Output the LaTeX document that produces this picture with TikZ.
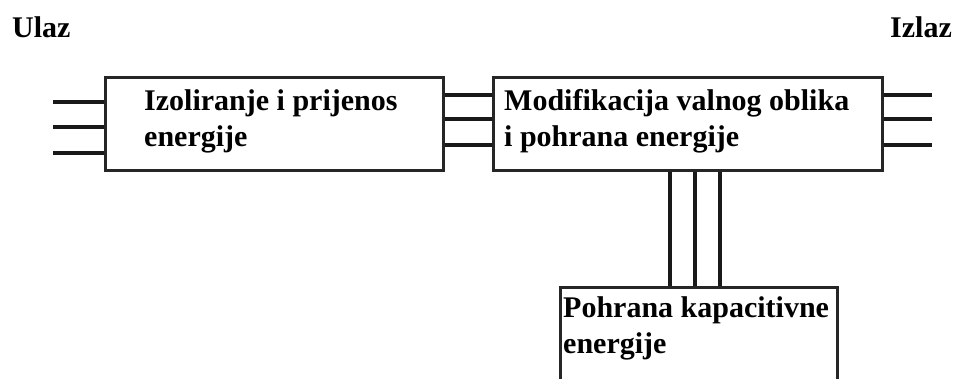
\documentclass[tikz,border=0pt]{standalone}
\usepackage{fontspec}
\setmainfont{Liberation Serif}
\begin{document}
\begin{tikzpicture}[x=1pt,y=-1pt,
  blk/.style={draw=black!85,line width=3pt,rectangle,inner sep=0pt},
  lead/.style={draw=black!90,line width=3.2pt},
  txt/.style={inner sep=0pt,anchor=base west,align=left,font=\bfseries\fontsize{30}{36.5}\selectfont}]
\useasboundingbox (0,0) rectangle (955,378);
\clip (0,0) rectangle (955,378);
\node[blk,minimum width=338pt,minimum height=93pt] (b1) at (274,123.5) {};
\node[blk,minimum width=389pt,minimum height=93pt] (b2) at (687.5,123.5) {};
\node[blk,minimum width=277pt,minimum height=133pt] (b3) at (698.5,353.5) {};
\node[txt] (t1) at (144,146.5) {Izoliranje i prijenos\\energije};
\node[txt] (t2) at (504,146.5) {Modifikacija valnog oblika\\i pohrana energije};
\node[txt] (t3) at (563,353.5) {Pohrana kapacitivne\\energije};
\node[txt] (ulaz) at (12,37) {Ulaz};
\node[txt,anchor=base east] (izlaz) at (952,37) {Izlaz};
\coordinate (in1) at (53,102);
\coordinate (in2) at (53,127);
\coordinate (in3) at (53,153);
\coordinate (out1) at (932,95);
\coordinate (out2) at (932,119);
\coordinate (out3) at (932,145);
\foreach \i in {1,2,3}{
  \draw[lead] (in\i) -- (b1.west |- in\i);
  \draw[lead] (b2.east |- out\i) -- (out\i);
  \draw[lead] (b1.east |- out\i) -- (b2.west |- out\i);
}
\foreach \xx in {670,695,720}{
  \draw[lead] (b2.south -| \xx,0) -- (b3.north -| \xx,0);
}
\end{tikzpicture}
\end{document}
